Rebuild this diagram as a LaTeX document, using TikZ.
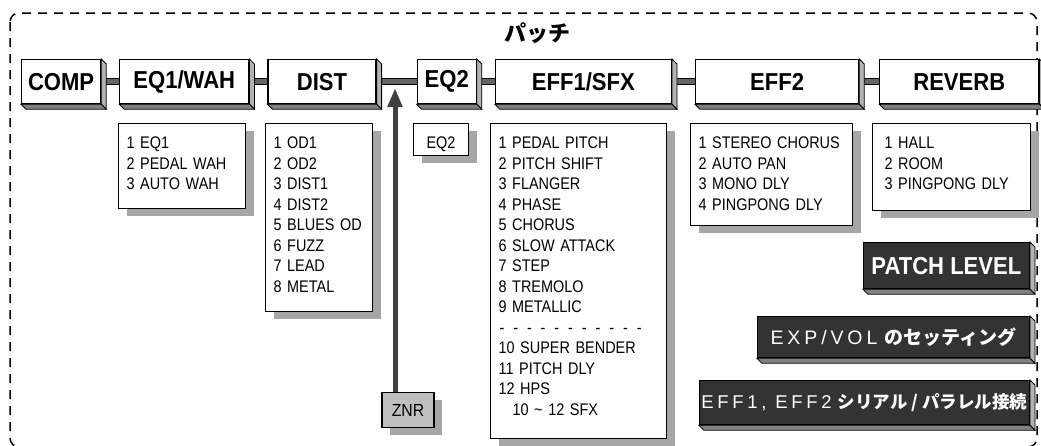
\documentclass[tikz,border=0pt]{standalone}
\usepackage{fontspec}
\setmainfont{Liberation Sans}
\newfontfamily\narrowfont[FakeStretch=0.9]{Liberation Sans}
\newfontfamily\listfont[FakeStretch=0.86]{Liberation Sans}
\newfontfamily\jpfont{Noto Sans CJK JP}
\newfontfamily\spacedfont[LetterSpace=20]{Liberation Sans}
\usetikzlibrary{arrows.meta,positioning,calc,shadows}
\newcommand\dashrow{\makebox[152pt][l]{\xleaders\hbox to 12.7pt{-\hss}\hfill}}

\begin{document}
\begin{tikzpicture}[
    x=1pt, y=-1pt,
    fx/.style={draw, line width=1.2pt, fill=white, minimum height=44pt, inner sep=0pt, font=\narrowfont\bfseries\fontsize{24.5}{24.5}\selectfont},
    menu/.style={draw, line width=1.1pt, fill=white, anchor=north west, align=left, inner xsep=8pt, inner ysep=0pt, text height=25pt, font=\listfont\fontsize{16.8}{20.5}\selectfont, drop shadow={shadow xshift=8pt, shadow yshift=-7pt, fill=black!35, opacity=1}},
    dark/.style={draw, line width=1.2pt, fill=black!80, text=white, inner sep=0pt, anchor=north east},
    znrbox/.style={draw, line width=1.6pt, fill=black!25, minimum width=52pt, minimum height=35pt, font=\narrowfont\fontsize{17.5}{17.5}\selectfont, drop shadow={shadow xshift=8pt, shadow yshift=-7pt, fill=black!35, opacity=1}},
    side/.style={draw, line width=0.8pt, fill=black!30},
    under/.style={draw, line width=0.8pt, fill=black!50},
    link/.style={line width=1pt, double=black!60, double distance=4.5pt},
    tapline/.style={line width=5pt, draw=black!75, -{Triangle[length=19pt, width=14pt]}}
]
\useasboundingbox (0,0) rectangle (1041,445);
\draw[line width=1.5pt, dash pattern=on 9pt off 7pt, rounded corners=9pt] (10,13) rectangle (1037,447);
\node[font=\jpfont\bfseries\fontsize{22}{22}\selectfont] (title) at (537,33) {パッチ};

% signal chain
\node[fx, minimum width=79pt, anchor=north west] (comp) at (21,59) {COMP};
\node[fx, minimum width=129pt, right=18pt of comp] (eqwah) {EQ1/WAH};
\node[fx, minimum width=108pt, right=18pt of eqwah] (dist) {DIST};
\node[fx, minimum width=59pt, right=40pt of dist] (eqtwo) {EQ2};
\node[fx, minimum width=176pt, right=18pt of eqtwo] (effsfx) {EFF1/SFX};
\node[fx, minimum width=163pt, right=23pt of effsfx] (efftwo) {EFF2};
\node[fx, minimum width=159pt, right=20pt of efftwo] (reverb) {REVERB};

% effect types
\node[menu, text width=111pt, text depth=60pt] (eqwahlist) at (118,123) {1 EQ1\\2 PEDAL WAH\\3 AUTO WAH};
\node[menu, text width=91pt, text depth=163pt] (distlist) at (265,123) {1 OD1\\2 OD2\\3 DIST1\\4 DIST2\\5 BLUES OD\\6 FUZZ\\7 LEAD\\8 METAL};
\node[menu, text width=39pt, text depth=7pt, align=center] (eqtwolist) at (413,123) {EQ2};
\node[menu, text width=160pt, text depth=290pt] (sfxlist) at (490,123) {1 PEDAL PITCH\\2 PITCH SHIFT\\3 FLANGER\\4 PHASE\\5 CHORUS\\6 SLOW ATTACK\\7 STEP\\8 TREMOLO\\9 METALLIC\\\dashrow\\10 SUPER BENDER\\11 PITCH DLY\\12 HPS\\\hspace*{14pt}10 \textasciitilde\ 12 SFX};
\node[menu, text width=146pt, text depth=77pt] (efftwolist) at (690,123) {1 STEREO CHORUS\\2 AUTO PAN\\3 MONO DLY\\4 PINGPONG DLY};
\node[menu, text width=134pt, text depth=62pt, inner xsep=12pt] (reverblist) at (872,123) {1 HALL\\2 ROOM\\3 PINGPONG DLY};

% noise reduction
\node[znrbox] (znr) at (408,410) {ZNR};
\coordinate (tap) at (395,88);
\draw[tapline] (znr.north -| tap) -- (tap);

% settings
\node[dark, minimum width=166pt, minimum height=46pt, font=\narrowfont\bfseries\fontsize{24.5}{24.5}\selectfont] (patch) at (1030,242) {PATCH LEVEL};
\node[dark, minimum width=272pt, minimum height=41pt] (expvol) at (1030,316) {{\spacedfont\fontsize{19.5}{19.5}\selectfont EXP/VOL}\hspace{7pt}{\jpfont\bfseries\fontsize{19}{19}\selectfont のセッティング}};
\node[dark, minimum width=330pt, minimum height=44pt] (serpar) at (1030,380) {{\spacedfont\fontsize{18.5}{18.5}\selectfont EFF1, EFF2}\hspace{6pt}{\jpfont\bfseries\fontsize{17.5}{17.5}\selectfont シリアル / パラレル接続}};

\foreach \a/\b in {comp/eqwah, eqwah/dist, dist/eqtwo, eqtwo/effsfx, effsfx/efftwo, efftwo/reverb}
  \draw[link] (\a.east) -- (\b.west);

% 3d faces
\foreach \n in {comp,eqwah,dist,eqtwo,effsfx,efftwo,reverb,patch,expvol,serpar} {
  \filldraw[side] (\n.north east) -- ++(5,5) -- ($(\n.south east)+(5,5)$) -- (\n.south east) -- cycle;
  \filldraw[under] (\n.south west) -- ++(5,5) -- ($(\n.south east)+(5,5)$) -- (\n.south east) -- cycle;
}
\end{tikzpicture}
\end{document}
